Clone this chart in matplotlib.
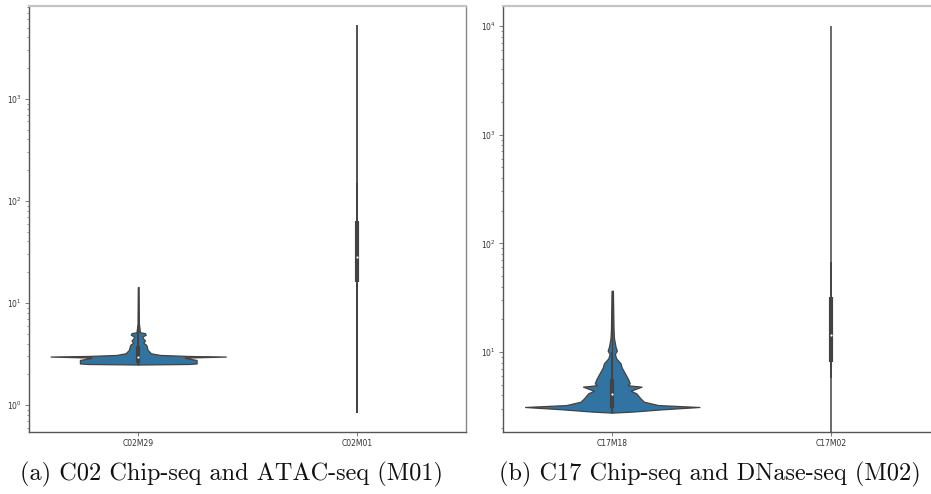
import numpy as np
import matplotlib
matplotlib.use("Agg")
import matplotlib.pyplot as plt

# ---- data -------------------------------------------------------------
left_categories = ["C02M29", "C02M01"]
right_categories = ["C17M18", "C17M02"]

# violin outline for C02M29: values and half-widths (category units)
c02m29_values = [2.49, 2.52, 2.55, 2.76, 2.85, 2.91, 2.98, 3.02, 3.09, 3.21,
                 3.46, 3.87, 4.08, 4.27, 4.47, 4.68, 4.86, 5.05, 5.16, 6.3, 14.3]
c02m29_halfw = [0.0, 0.23, 0.267, 0.267, 0.229, 0.214, 0.401, 0.23, 0.10, 0.058,
                0.043, 0.037, 0.023, 0.031, 0.023, 0.018, 0.034, 0.031, 0.008, 0.003, 0.0015]

# violin outline for C17M18
c17m18_values = [2.77, 2.83, 2.97, 3.12, 3.25, 3.49, 3.75, 4.17, 4.40, 4.80,
                 4.95, 5.16, 5.61, 6.37, 7.23, 7.87, 8.75, 9.6, 10.3, 11.2,
                 13.4, 15.9, 36.6]
c17m18_halfw = [0.0, 0.091, 0.228, 0.399, 0.21, 0.145, 0.129, 0.110, 0.084, 0.134,
                0.070, 0.080, 0.073, 0.058, 0.043, 0.038, 0.018, 0.012, 0.021, 0.015,
                0.008, 0.006, 0.003]

# inner box statistics: [min, whisker_lo, q1, median, q3, whisker_hi, max]
c02m29_stats = [2.49, 2.49, 2.55, 2.93, 3.8, 6.0, 14.3]
c02m01_stats = [0.83, 0.83, 16.2, 28.1, 64.1, 150.0, 5300.0]
c17m18_stats = [2.77, 2.77, 3.05, 4.1, 5.7, 10.0, 36.6]
c17m02_stats = [1.0, 5.73, 8.15, 14.3, 32.3, 67.6, 10000.0]

left_ylim = [0.543, 8130.0]
right_ylim = [1.837, 15270.0]

captions = ["(a) C02 Chip-seq and ATAC-seq (M01)",
            "(b) C17 Chip-seq and DNase-seq (M02)"]

# ---- style ------------------------------------------------------------
FILL = "#3274a1"
GRAY = "#424242"

W, H = 931, 494
fig = plt.figure(figsize=(W / 100, H / 100), dpi=100)


def style_axes(ax, ylim, cats):
    ax.set_yscale("log")
    ax.set_ylim(*ylim)
    ax.set_xlim(-0.5, 1.5)
    ax.set_xticks(range(len(cats)))
    ax.set_xticklabels(cats)
    ax.tick_params(axis="both", which="major", labelsize=5.5, length=3,
                   width=0.6, color="#666666", labelcolor="#333333", pad=2)
    ax.tick_params(axis="y", which="minor", length=1.8, width=0.5, color="#666666")
    for side in ("left", "bottom"):
        ax.spines[side].set_color("#555555")
        ax.spines[side].set_linewidth(1.0)
    ax.spines["right"].set_color("#888888")
    ax.spines["right"].set_linewidth(1.0)
    ax.spines["top"].set_color("#c4c4c4")
    ax.spines["top"].set_linewidth(1.6)


def draw_violin(ax, pos, values, halfw):
    v = np.asarray(values, dtype=float)
    w = np.asarray(halfw, dtype=float)
    ax.fill_betweenx(v, pos - w, pos + w, facecolor=FILL, edgecolor=GRAY,
                     linewidth=0.9, zorder=1)


def draw_inner(ax, pos, stats, body_lw=1.0):
    mn, wlo, q1, med, q3, whi, mx = stats
    ax.plot([pos, pos], [mn, mx], color=GRAY, lw=body_lw, zorder=2,
            solid_capstyle="butt")
    ax.plot([pos, pos], [wlo, whi], color=GRAY, lw=1.3, zorder=2,
            solid_capstyle="butt")
    ax.plot([pos, pos], [q1, q3], color=GRAY, lw=3.0, zorder=3,
            solid_capstyle="butt")
    ax.scatter([pos], [med], s=2.5, color="white", zorder=4, linewidths=0)


ax1 = fig.add_axes([29 / W, 1 - 432 / H, 437 / W, 426 / H])
style_axes(ax1, left_ylim, left_categories)
draw_violin(ax1, 0, c02m29_values, c02m29_halfw)
draw_inner(ax1, 0, c02m29_stats, body_lw=0.9)
draw_inner(ax1, 1, c02m01_stats, body_lw=1.3)

ax2 = fig.add_axes([503 / W, 1 - 432 / H, 437 / W, 426 / H])
style_axes(ax2, right_ylim, right_categories)
draw_violin(ax2, 0, c17m18_values, c17m18_halfw)
draw_inner(ax2, 0, c17m18_stats, body_lw=0.9)
draw_inner(ax2, 1, c17m02_stats, body_lw=1.1)

fig.text(232 / W, 1 - 474 / H, captions[0], family="cmr10", fontsize=17.5,
         ha="center", va="center", color="#111111")
fig.text(710 / W, 1 - 474 / H, captions[1], family="cmr10", fontsize=17.5,
         ha="center", va="center", color="#111111")

fig.savefig("out.png", dpi=100)
